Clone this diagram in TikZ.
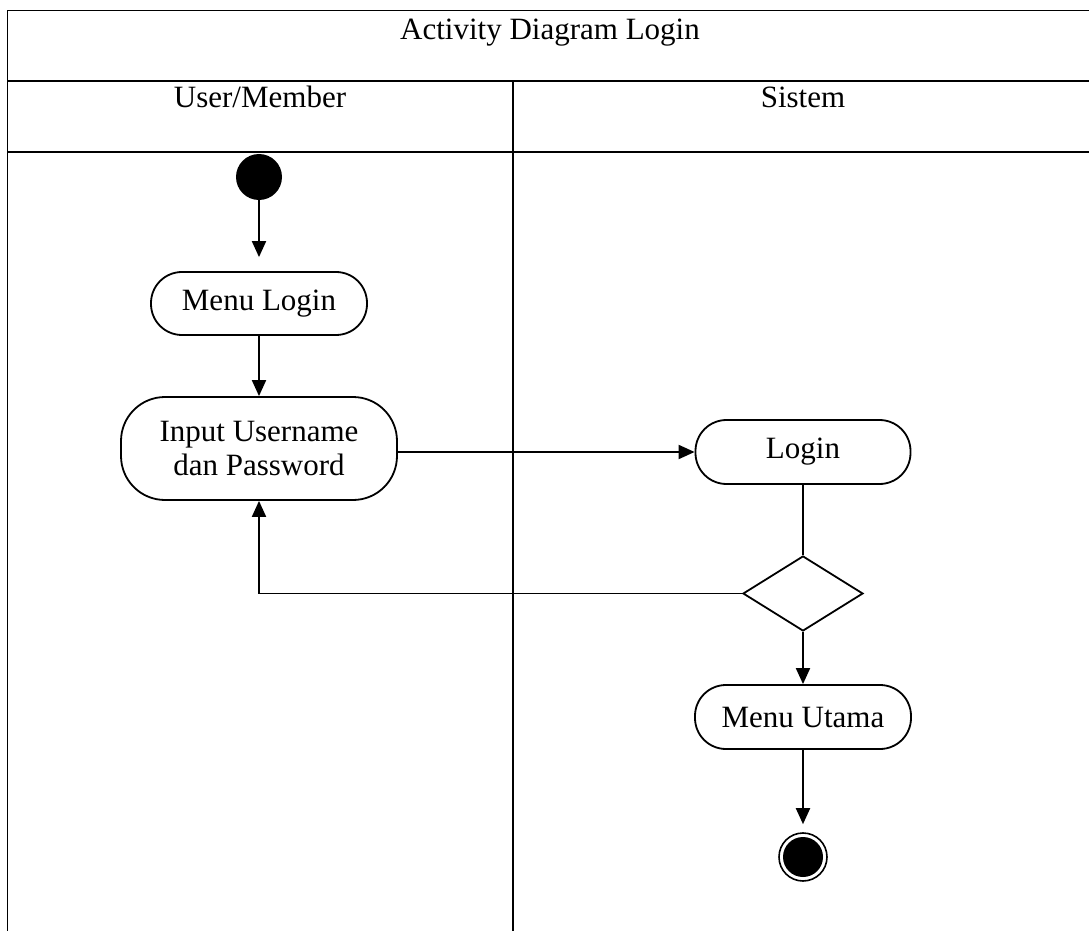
\documentclass[tikz,border=0pt]{standalone}
\usepackage{fontspec}
\setmainfont{Liberation Serif}
\usetikzlibrary{arrows.meta,shapes.geometric,calc}
\begin{document}
\begin{tikzpicture}[x=0.5pt,y=-0.5pt,
  txt/.style={font=\fontsize{15.5}{17}\selectfont},
  grid/.style={line width=0.75pt},
  action/.style={draw,line width=0.9pt,align=center,inner sep=0pt,txt},
  startnode/.style={circle,fill=black,minimum size=23pt,inner sep=0pt},
  endnode/.style={circle,draw,line width=0.8pt,minimum size=24pt,inner sep=0pt,
    path picture={\fill (path picture bounding box.center) circle (10pt);}},
  decision/.style={diamond,draw,line width=0.9pt,minimum width=60pt,minimum height=37.5pt,inner sep=0pt},
  link/.style={line width=0.95pt},
  flow/.style={link,-{Triangle[length=8pt,width=7pt]}}]
\useasboundingbox (0,0) rectangle (1089,931);

% swimlane table
\draw[grid] (7.5,931) -- (7.5,10.5) -- (1089,10.5);
\draw[grid] (7.5,81) -- (1089,81);
\draw[grid] (7.5,152) -- (1089,152);
\draw[grid] (513,81) -- (513,931);

\node[txt,anchor=base] (title) at (550,40) {Activity Diagram Login};
\node[txt,anchor=base] (laneuser) at (260,108) {User/Member};
\node[txt,anchor=base] (lanesys) at (803,108) {Sistem};

% activities
\node[startnode] (start) at (259,177) {};
\node[action,minimum width=108pt,minimum height=31.5pt,rounded corners=15.5pt] (menulogin) at (259,303.5) {Menu Login};
\node[action,minimum width=138pt,minimum height=51.5pt,rounded corners=22pt] (input) at (259,448.5) {Input Username\\dan Password};
\node[action,minimum width=107.5pt,minimum height=32pt,rounded corners=15.5pt] (login) at (803,452) {Login};
\node[decision] (dec) at (803,593.5) {};
\node[action,minimum width=108pt,minimum height=32pt,rounded corners=15.5pt] (menuutama) at (803,717) {Menu Utama};
\node[endnode] (final) at (803,857) {};

% control flow
\draw[flow,shorten >=7pt] (start) -- (menulogin);
\draw[flow] (menulogin) -- (input);
\draw[flow] (input.east |- login) -- (login);
\draw[link] (login) -- (dec);
\draw[flow] (dec.west) -| (input.south);
\draw[flow] (dec) -- (menuutama);
\draw[flow,shorten >=4pt] (menuutama) -- (final);
\end{tikzpicture}
\end{document}
